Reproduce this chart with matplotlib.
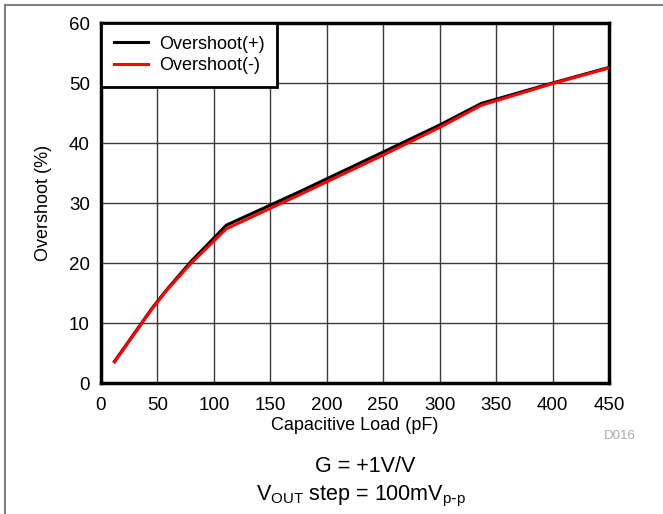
import matplotlib.pyplot as plt
import matplotlib.lines as mlines

plt.rcParams['font.family'] = ['Liberation Sans', 'DejaVu Sans']

# capacitive load (pF) vs overshoot (%)
cap_pos = [12, 21, 45, 58, 80, 111, 175, 250, 300, 337, 400, 450]
over_pos = [3.6, 6.0, 12.4, 15.5, 20.3, 26.3, 31.8, 38.5, 43.0, 46.6, 50.0, 52.6]
cap_neg = [12, 21, 45, 58, 80, 111, 175, 250, 300, 337, 400, 450]
over_neg = [3.5, 5.9, 12.3, 15.4, 20.0, 25.7, 31.3, 38.0, 42.6, 46.3, 49.9, 52.5]

x_ticks = [0, 50, 100, 150, 200, 250, 300, 350, 400, 450]
y_ticks = [0, 10, 20, 30, 40, 50, 60]

fig = plt.figure(figsize=(6.63, 5.14), dpi=100)
ax = fig.add_axes([101/663, 1 - 383/514, (609-101)/663, (383-23)/514])

ax.plot(cap_pos, over_pos, color='black', lw=2.2, label='Overshoot(+)', zorder=3)
ax.plot(cap_neg, over_neg, color='#ff0000', lw=2.2, label='Overshoot(-)', zorder=4)

ax.set_xlim(0, 450)
ax.set_ylim(0, 60)
ax.set_xticks(x_ticks)
ax.set_yticks(y_ticks)
ax.tick_params(length=0, labelsize=13.5)
ax.tick_params(axis='x', pad=10)
ax.tick_params(axis='y', pad=8)
ax.grid(True, color='#3a3a3a', lw=1)
for s in ax.spines.values():
    s.set_linewidth(2.5)
ax.set_xlabel('Capacitive Load (pF)', fontsize=13, labelpad=2)
ax.set_ylabel('Overshoot (%)', fontsize=13, labelpad=12)

leg = ax.legend(loc='upper left', fontsize=13, frameon=True, fancybox=False,
                borderaxespad=0, handlelength=1.9, handletextpad=0.6,
                labelspacing=0.25, borderpad=0.7)
leg.get_frame().set_edgecolor('black')
leg.get_frame().set_linewidth(2)
leg.get_frame().set_alpha(1)

fig.text(620/663, 1 - 436/514, 'D016', color='#aaaaaa', fontsize=9.5,
         ha='center', va='center')
fig.text(365/663, 1 - 466/514, 'G = +1V/V', fontsize=15.5, ha='center', va='center')
fig.text(361/663, 1 - 496/514, r'V$_{\mathregular{OUT}}$ step = 100mV$_{\mathregular{p\text{-}p}}$',
         fontsize=15.5, ha='center', va='center')

# outer frame (top and left)
fig.add_artist(mlines.Line2D([5/663, 5/663], [0, 1 - 5/514], color='#808080', lw=1.5))
fig.add_artist(mlines.Line2D([5/663, 1], [1 - 5/514, 1 - 5/514], color='#808080', lw=1.5))

fig.savefig('out.png', dpi=100)
